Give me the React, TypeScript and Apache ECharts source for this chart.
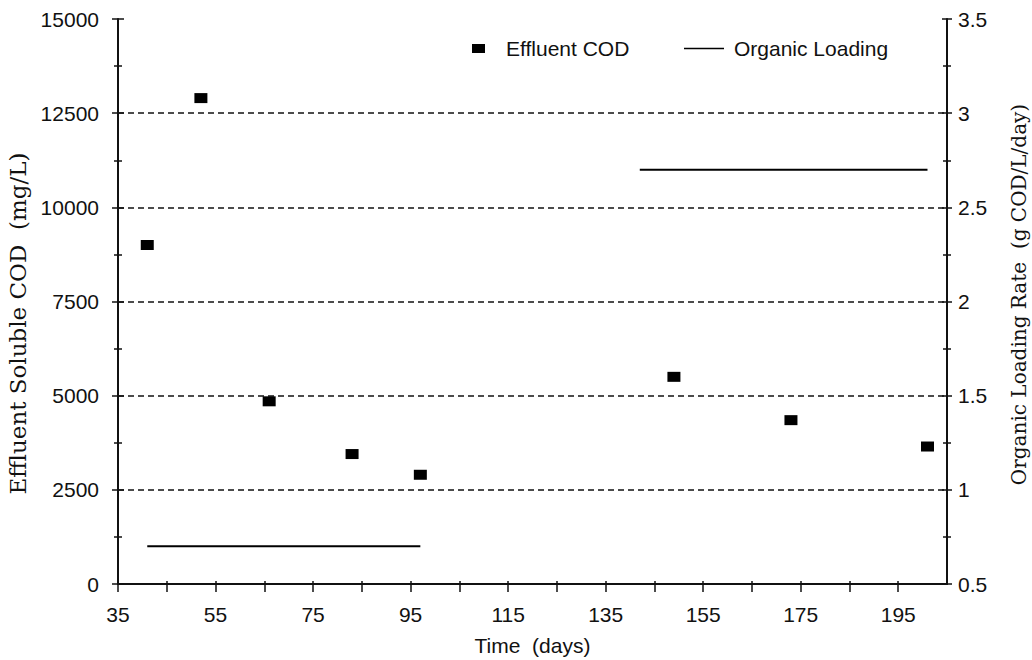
import React, { useEffect, useRef } from "react";
import * as echarts from "echarts";

const codDays = [41, 52, 66, 83, 97, 149, 173, 201];
const codValues = [9000, 12900, 4850, 3450, 2900, 5500, 4350, 3650];
const loadingPhase1Days = [41, 97];
const loadingPhase1Rate = [0.7, 0.7];
const loadingPhase2Days = [142, 201];
const loadingPhase2Rate = [2.7, 2.7];
const xTickValues = [35, 45, 55, 65, 75, 85, 95, 105, 115, 125, 135, 145, 155, 165, 175, 185, 195];
const xLabelValues = [35, 55, 75, 95, 115, 135, 155, 175, 195];

const SANS = "'Liberation Sans', Arial, sans-serif";
const SERIF = "'DejaVu Serif', serif";
const INK = "#111";

export default function App() {
  const ref = useRef<HTMLDivElement>(null);
  useEffect(() => {
    if (!ref.current) return;
    const chart = echarts.init(ref.current, null, { renderer: "svg" });
    const pair = (xs: number[], ys: number[]) => xs.map((x, i) => [x, ys[i]]);
    const yCommonLeft = { min: 0, max: 15000, interval: 2500 };
    const yCommonRight = { min: 0.5, max: 3.5, interval: 0.5 };
    chart.setOption({
      animation: false,
      backgroundColor: "#fff",
      grid: { left: 118, right: 85, top: 19, bottom: 76, outerBoundsMode: "none" },
      legend: [
        {
          data: [{ name: "Effluent COD", icon: "rect" }],
          left: 467,
          top: 33,
          itemWidth: 13,
          itemHeight: 9,
          textStyle: { fontFamily: SANS, fontSize: 21, color: INK, padding: [0, 0, 0, 16] },
        },
        {
          data: [{ name: "Organic Loading", icon: "path://M0 0H40V1.5H0Z" }],
          left: 679,
          top: 33,
          itemWidth: 40,
          itemHeight: 1.5,
          textStyle: { fontFamily: SANS, fontSize: 21, color: INK, padding: [0, 0, 0, 5] },
        },
      ],
      xAxis: [
        {
          type: "value",
          min: 35,
          max: 205,
          name: "Time  (days)",
          nameLocation: "middle",
          nameGap: 51,
          nameTextStyle: { fontFamily: SANS, fontSize: 21, color: INK },
          axisLine: { onZero: false, lineStyle: { color: INK, width: 2 } },
          axisTick: { customValues: xTickValues, length: 8, lineStyle: { color: INK, width: 1.5 } },
          axisLabel: { customValues: xLabelValues, margin: 20, fontFamily: SANS, fontSize: 21, color: INK },
          splitLine: { show: false },
        },
        {
          type: "value",
          min: 35,
          max: 205,
          position: "bottom",
          axisLine: { show: false, onZero: false },
          axisTick: { customValues: xTickValues, inside: true, length: 3, lineStyle: { color: INK, width: 1.5 } },
          axisLabel: { show: false },
          splitLine: { show: false },
        },
      ],
      yAxis: [
        {
          type: "value",
          ...yCommonLeft,
          position: "left",
          name: "Effluent Soluble COD  (mg/L)",
          nameLocation: "middle",
          nameRotate: 90,
          nameGap: 88,
          nameTextStyle: { fontFamily: SERIF, fontSize: 23, color: INK, padding: [0, 44, 0, 0] },
          axisLine: { show: true, onZero: false, lineStyle: { color: INK, width: 2 } },
          axisTick: { show: true, length: 6, lineStyle: { color: INK, width: 1.5 } },
          minorTick: { show: true, splitNumber: 2, length: 4, lineStyle: { color: INK, width: 1.5 } },
          axisLabel: {
            margin: 19,
            fontFamily: SANS,
            fontSize: 21,
            color: INK,
            formatter: (v: number) => String(v),
          },
          splitLine: {
            show: true,
            showMinLine: false,
            showMaxLine: false,
            lineStyle: { color: INK, width: 1.6, type: [6, 4] },
          },
        },
        {
          type: "value",
          ...yCommonRight,
          position: "right",
          name: "Organic Loading Rate  (g COD/L/day)",
          nameLocation: "middle",
          nameRotate: 90,
          nameGap: 62,
          nameTextStyle: { fontFamily: SERIF, fontSize: 20, color: INK, padding: [0, 0, 0, 14] },
          axisLine: { show: true, onZero: false, lineStyle: { color: INK, width: 2 } },
          axisTick: { show: true, length: 5, lineStyle: { color: INK, width: 1.5 } },
          minorTick: { show: true, splitNumber: 2, length: 4, lineStyle: { color: INK, width: 1.5 } },
          axisLabel: { margin: 11, fontFamily: SANS, fontSize: 21, color: INK },
          splitLine: { show: false },
        },
        {
          type: "value",
          ...yCommonLeft,
          position: "left",
          axisLine: { show: false, onZero: false },
          axisTick: { show: true, inside: true, length: 6, lineStyle: { color: INK, width: 1.5 } },
          minorTick: { show: true, splitNumber: 2, length: 4, lineStyle: { color: INK, width: 1.5 } },
          axisLabel: { show: false },
          splitLine: { show: false },
        },
        {
          type: "value",
          ...yCommonRight,
          position: "right",
          axisLine: { show: false, onZero: false },
          axisTick: { show: true, inside: true, length: 5, lineStyle: { color: INK, width: 1.5 } },
          minorTick: { show: true, splitNumber: 2, length: 4, lineStyle: { color: INK, width: 1.5 } },
          axisLabel: { show: false },
          splitLine: { show: false },
        },
      ],
      series: [
        {
          name: "Effluent COD",
          type: "scatter",
          xAxisIndex: 0,
          yAxisIndex: 0,
          symbol: "rect",
          symbolSize: [13, 10],
          itemStyle: { color: "#000", opacity: 1 },
          data: pair(codDays, codValues),
        },
        {
          name: "Organic Loading",
          type: "line",
          xAxisIndex: 0,
          yAxisIndex: 1,
          showSymbol: false,
          symbol: "none",
          lineStyle: { color: "#000", width: 2 },
          itemStyle: { color: "#000" },
          data: pair(loadingPhase1Days, loadingPhase1Rate),
        },
        {
          name: "Organic Loading",
          type: "line",
          xAxisIndex: 0,
          yAxisIndex: 1,
          showSymbol: false,
          symbol: "none",
          lineStyle: { color: "#000", width: 2 },
          itemStyle: { color: "#000" },
          data: pair(loadingPhase2Days, loadingPhase2Rate),
        },
      ],
    });
    return () => chart.dispose();
  }, []);
  return (
    <div
      ref={ref}
      style={{ position: "fixed", left: 0, top: 0, width: 1032, height: 660, background: "#fff" }}
    />
  );
}
